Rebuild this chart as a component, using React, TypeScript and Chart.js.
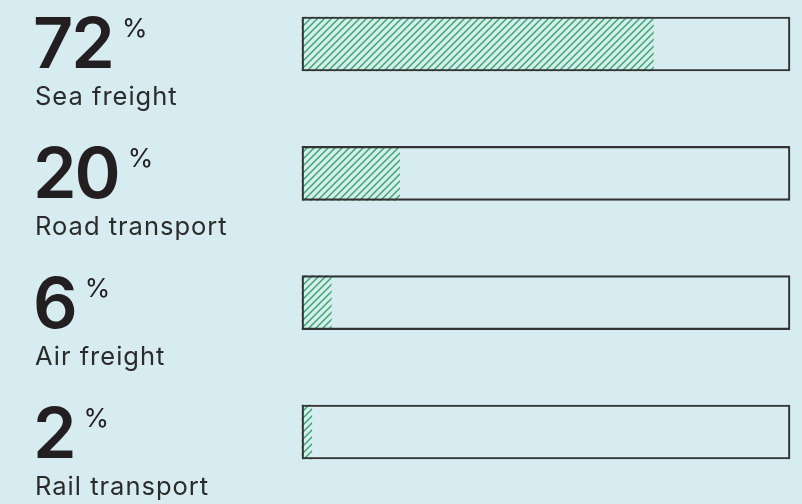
import React, { useEffect, useRef } from 'react';
import { Chart, registerables } from 'chart.js';

Chart.register(...registerables);

const categories = ['Sea freight', 'Road transport', 'Air freight', 'Rail transport'];
const shares = [72, 20, 6, 2];
const totals = [100, 100, 100, 100];
const unit = '%';

function makePattern(): CanvasPattern | string {
  const c = document.createElement('canvas');
  c.width = 7;
  c.height = 7;
  const g = c.getContext('2d');
  if (!g) return '#3aa967';
  g.strokeStyle = '#3aa967';
  g.lineWidth = 1.5;
  g.beginPath();
  g.moveTo(0, 7);
  g.lineTo(7, 0);
  g.moveTo(-1, 1);
  g.lineTo(1, -1);
  g.moveTo(6, 8);
  g.lineTo(8, 6);
  g.stroke();
  return g.createPattern(c, 'repeat') || '#3aa967';
}

const labelPlugin = {
  id: 'leftLabels',
  afterDraw(chart: any) {
    const ctx = chart.ctx as any;
    const y = chart.scales.y;
    categories.forEach((cat, i) => {
      const cy = y.getPixelForValue(i);
      const drift = i * 0.8;
      ctx.save();
      ctx.fillStyle = '#231f20';
      ctx.textBaseline = 'alphabetic';
      ctx.textAlign = 'left';
      ctx.font = '600 70px Inter';
      ctx.letterSpacing = '-2px';
      const num = String(shares[i]);
      ctx.fillText(num, 33, cy + 24 + drift);
      const w = ctx.measureText(num).width;
      ctx.letterSpacing = '0px';
      ctx.font = '400 26px Inter';
      ctx.fillText(unit, 33 + w + 9, cy - 7 + drift);
      ctx.fillStyle = '#2b2b2b';
      ctx.font = '400 25.5px Inter';
      ctx.letterSpacing = '1px';
      ctx.fillText(cat, 35, cy + 61 + drift);
      ctx.restore();
    });
  },
};

export default function App() {
  const ref = useRef<HTMLCanvasElement>(null);
  useEffect(() => {
    if (!ref.current) return;
    const pattern = makePattern();
    const chart = new Chart(ref.current, {
      type: 'bar',
      data: {
        labels: categories,
        datasets: [
          {
            label: 'Outline',
            data: totals,
            backgroundColor: 'rgba(0,0,0,0)',
            borderColor: '#333333',
            borderWidth: 1.5,
            borderSkipped: false,
            grouped: false,
            barThickness: 54,
            clip: false,
            order: 0,
          } as any,
          {
            label: 'Share',
            data: shares,
            backgroundColor: pattern as any,
            borderWidth: 0,
            grouped: false,
            barThickness: 54,
            clip: false,
            order: 1,
          } as any,
        ],
      },
      options: {
        indexAxis: 'y',
        animation: false,
        responsive: false,
        devicePixelRatio: 1,
        layout: { padding: { left: 302, right: 12, top: 44, bottom: 72 } },
        scales: {
          x: { display: false, min: 0, max: 100 },
          y: { display: false, offset: false },
        },
        plugins: { legend: { display: false }, tooltip: { enabled: false } },
      },
      plugins: [labelPlugin],
    });
    return () => chart.destroy();
  }, []);
  return (
    <div style={{ position: 'fixed', left: 0, top: 0, width: 802, height: 504, background: '#d7ecf1' }}>
      <canvas ref={ref} width={802} height={504} style={{ display: 'block' }} />
    </div>
  );
}
